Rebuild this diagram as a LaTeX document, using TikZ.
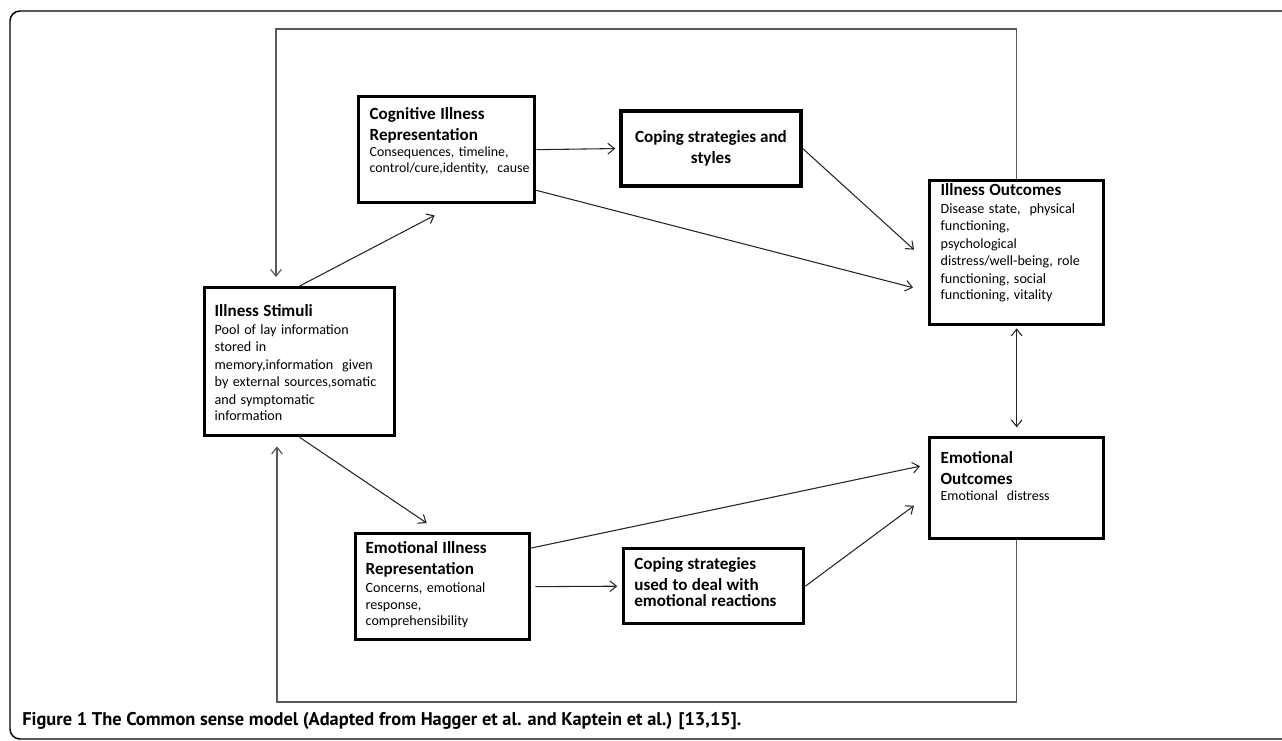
\documentclass[tikz,border=0pt]{standalone}
\usepackage{fontspec}
\setmainfont{Carlito}
\newfontfamily\capfont{PT Sans}
\usetikzlibrary{arrows.meta,calc}

\newcommand{\boxtitle}{\fontsize{12.8}{15.8}\selectfont\bfseries}
\newcommand{\boxinfo}{\fontsize{10.6}{13.1}\selectfont\mdseries}
\newcommand{\boxinfosm}{\fontsize{10.4}{12}\selectfont\mdseries}

\tikzset{
  box/.style={draw, line width=2.5pt, anchor=north west, inner ysep=0pt, align=left},
  link/.style={->, line width=0.8pt, draw=black!85},
  loopline/.style={->, line width=0.9pt, draw=black!65},
}

\begin{document}
\begin{tikzpicture}[x=0.75pt, y=-0.75pt, >={Straight Barb[length=5pt,width=8pt]}]
\useasboundingbox (0,0) rectangle (1282,740);
% outer frame
\draw[line width=1.1pt, rounded corners=7.5pt] (10,11) rectangle (1300,739);

% boxes
\node[box, inner xsep=7.5pt, text width=127.5pt, text height=21.75pt, text depth=89.25pt] (stimuli) at (203,286)
  {\boxtitle Illness Stimuli\par\boxinfo Pool of lay information\\stored in\\memory,information~ given\\by external sources,somatic\\and symptomatic\\information};
\node[box, inner xsep=8.25pt, text width=115.5pt, text height=17.25pt, text depth=62.25pt] (cogrep) at (357,95)
  {\boxtitle Cognitive Illness\\Representation\par\boxinfosm Consequences, timeline,\\control/cure,identity,~ cause};
\node[box, anchor=center, inner sep=0pt, minimum width=135pt, minimum height=56.25pt, align=center, font=\boxtitle] (copecog) at (711,148.5)
  {Coping strategies and\\styles};
\node[box, inner xsep=8.25pt, text width=114pt, text height=11.25pt, text depth=96.75pt] (illout) at (928,179)
  {\boxtitle Illness Outcomes\par\boxinfo Disease state,~ physical\\functioning,\\psychological\\distress/well-being, role\\functioning, social\\functioning, vitality};
\node[box, inner xsep=8.25pt, text width=114pt, text height=19.5pt, text depth=56.25pt] (emoout) at (928,436)
  {\boxtitle Emotional\\Outcomes\par\boxinfosm Emotional~ distress};
\node[box, inner xsep=7.5pt, text width=115.5pt, text height=15pt, text depth=64.5pt] (emorep) at (354,532)
  {\boxtitle Emotional Illness\\Representation\par\boxinfo Concerns, emotional\\response,\\comprehensibility};
\node[box, inner xsep=8pt, text width=119pt, text height=15.75pt, text depth=40.5pt] (copeemo) at (622,547)
  {\boxtitle Coping strategies\\used to deal with\\emotional reactions};

% connectors
\draw[link] (stimuli.north) -- ($(cogrep.south)+(-12,11)$);
\draw[link] (stimuli.south) -- ($(emorep.north)+(-16,-9)$);
\draw[link, shorten >=3pt] (cogrep.east) -- (copecog.west);
\draw[link] (copecog.east) -- ($(illout.west)+(-14,-3)$);
\draw[link] ($(cogrep.south east)+(0,-14)$) -- ($(illout.west)+(-15,35)$);
\draw[link, shorten <=3pt, shorten >=3.5pt] (emorep.east) -- (copeemo.west);
\draw[link] ($(emorep.north east)+(0,16)$) -- ($(emoout.west)+(-8,-22)$);
\draw[link] (copeemo.east) -- ($(emoout.west)+(-14,17.5)$);
\draw[link, <->, shorten <=1.5pt, shorten >=6.5pt] (illout.south) -- (emoout.north);

% feedback loops
\coordinate (loopT) at (276,29);
\coordinate (loopB) at (277,702);
\draw[loopline, shorten >=6.75pt] (illout.north) |- (loopT) -- (loopT |- stimuli.north);
\draw[loopline, shorten >=6.75pt] (emoout.south) |- (loopB) -- (loopB |- stimuli.south);

% caption
\node[anchor=base west, inner sep=0pt, font=\capfont\fontsize{13.8}{15}\selectfont\bfseries] (caption) at (22,725)
  {Figure 1 The Common sense model (Adapted from Hagger et al. and Kaptein et al.) [13,15].};
\end{tikzpicture}
\end{document}
